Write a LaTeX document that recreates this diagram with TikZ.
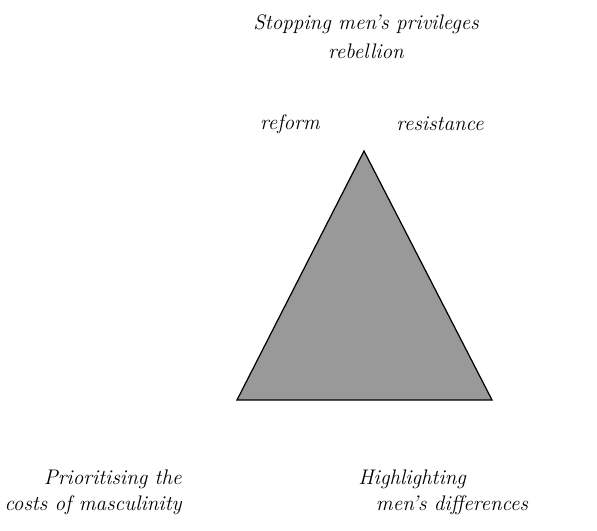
\documentclass[tikz,border=0pt]{standalone}
\usepackage{tikz}
\usetikzlibrary{positioning}

\tikzset{
  lbl/.style={font=\fontsize{12}{14.5}\selectfont\itshape, inner sep=0pt},
  wedge/.style={fill=gray!80, draw=black, line width=0.7pt, line join=miter}
}

\begin{document}
\begin{tikzpicture}[x=0.02cm,y=-0.02cm]
\useasboundingbox (0,0) rectangle (597,530);
% triangle corners
\coordinate (T) at (364,151);
\coordinate (L) at (237,400);
\coordinate (R) at (492,400);
\filldraw[wedge] (T) -- (R) -- (L) -- cycle;

\node[lbl] (stop) at (366,24) {Stopping men's privileges};
\node[lbl] (rebel) at (366,51) {rebellion};
\node[lbl] (reform) at (290,124) {reform};
\node[lbl] (resist) at (440,124) {resistance};

\node[lbl, align=right, anchor=north east] (costs) at (182,470)
  {Prioritising the\\costs of masculinity};
\node[lbl, align=left, anchor=north west] (diff) at (358,470)
  {Highlighting\\\hspace*{10pt}men's differences};
\end{tikzpicture}
\end{document}
